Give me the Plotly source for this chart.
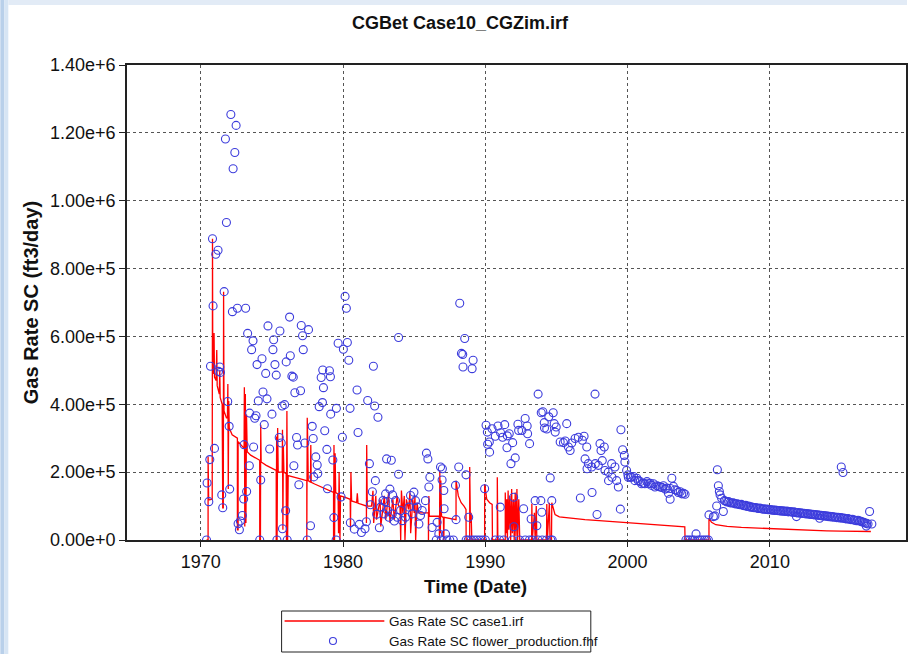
import plotly.graph_objects as go

# ---------------------------------------------------------------------------
# Simulated gas rate (case1.irf): (decimal year, rate in Mscf/day)
# ---------------------------------------------------------------------------
sim_points = [
    (1970.40, 0), (1970.51, 0), (1970.51, 246), (1970.55, 118), (1970.80, 120),
    (1970.82, 888), (1970.84, 500), (1970.90, 490), (1970.93, 610), (1970.96, 480),
    (1971.07, 470), (1971.12, 560), (1971.15, 455), (1971.30, 430), (1971.33, 500),
    (1971.36, 420), (1971.50, 400), (1971.54, 95), (1971.58, 95), (1971.60, 732),
    (1971.63, 380), (1971.80, 360), (1971.87, 360), (1971.90, 460), (1971.93, 150),
    (1971.96, 410), (1972.00, 330), (1972.20, 310), (1972.50, 300), (1972.57, 300),
    (1972.57, 30), (1972.62, 30), (1972.62, 290), (1973.00, 270), (1973.04, 270),
    (1973.06, 450), (1973.09, 40), (1973.13, 430), (1973.17, 50), (1973.21, 370),
    (1973.26, 260), (1973.50, 250), (1974.00, 240), (1974.14, 235), (1974.14, 0),
    (1974.19, 0), (1974.21, 340), (1974.24, 230), (1974.60, 220), (1975.00, 210),
    (1975.30, 205), (1975.30, 0), (1975.33, 305), (1975.36, 0), (1975.40, 330),
    (1975.44, 200), (1975.72, 200), (1975.74, 325), (1975.77, 30), (1975.80, 276),
    (1975.84, 200), (1976.00, 195), (1976.02, 0), (1976.05, 380), (1976.10, 0),
    (1976.14, 190), (1976.50, 185), (1977.00, 180), (1977.45, 175), (1977.45, 0),
    (1977.48, 360), (1977.52, 280), (1977.55, 175), (1977.71, 170), (1977.73, 280),
    (1977.76, 170), (1978.00, 165), (1978.50, 155), (1979.00, 145), (1979.33, 140),
    (1979.33, 0), (1979.36, 280), (1979.40, 0), (1979.44, 256), (1979.48, 140),
    (1979.65, 135), (1979.68, 20), (1979.72, 200), (1979.78, 0), (1979.82, 130),
    (1980.20, 125), (1980.50, 120), (1980.52, 30), (1980.55, 200), (1980.60, 115),
    (1980.95, 110), (1981.00, 138), (1981.05, 108), (1981.30, 105), (1981.64, 100),
    (1981.64, 50), (1981.66, 280), (1981.70, 100), (1982.00, 100), (1982.10, 145),
    (1982.15, 50), (1982.30, 130), (1982.35, 60), (1982.60, 120), (1982.65, 40),
    (1982.90, 130), (1983.00, 60), (1983.20, 140), (1983.30, 50), (1983.50, 120),
    (1983.60, 60), (1983.80, 130), (1983.90, 100), (1984.00, 100), (1984.05, 0),
    (1984.10, 146), (1984.20, 80), (1984.30, 130), (1984.35, 0), (1984.45, 120),
    (1984.60, 90), (1984.70, 140), (1984.75, 20), (1984.90, 120), (1985.00, 80),
    (1985.05, 130), (1985.10, 0), (1985.20, 110), (1985.30, 80), (1986.00, 80),
    (1986.00, 0), (1986.03, 130), (1986.06, 70), (1986.75, 70), (1986.78, 0),
    (1986.80, 205), (1986.84, 20), (1986.87, 175), (1986.92, 70), (1987.05, 66),
    (1987.08, 0), (1987.10, 67), (1987.94, 60), (1987.94, 175), (1988.10, 130),
    (1988.30, 110), (1988.50, 100), (1988.64, 90), (1988.65, 0), (1988.90, 0),
    (1988.90, 215), (1988.95, 50), (1989.00, 80), (1989.05, 0), (1989.95, 0),
    (1989.95, 165), (1990.10, 120), (1990.30, 110), (1990.48, 105), (1990.50, 0),
    (1990.84, 0), (1990.84, 185), (1990.88, 0), (1991.40, 0), (1991.40, 140),
    (1991.45, 20), (1991.50, 120), (1991.55, 0), (1991.60, 146), (1991.65, 30),
    (1991.72, 130), (1991.78, 0), (1991.85, 150), (1991.90, 20), (1991.98, 120),
    (1992.03, 0), (1992.10, 140), (1992.15, 10), (1992.22, 150), (1992.27, 0),
    (1992.35, 120), (1992.42, 0), (1993.25, 0), (1993.27, 107), (1993.30, 0),
    (1993.45, 80), (1993.50, 0), (1993.58, 100), (1993.62, 0), (1994.30, 0),
    (1994.32, 106), (1994.36, 0), (1994.50, 110), (1994.55, 0), (1994.65, 0),
    (1994.67, 110), (1994.90, 75), (1995.20, 68), (1996.00, 64), (1997.00, 60),
    (1998.00, 57), (1999.00, 54), (2000.00, 50), (2001.00, 48), (2002.00, 46),
    (2003.00, 43), (2003.90, 40), (2004.02, 39), (2004.04, 0), (2005.72, 0),
    (2005.72, 64), (2005.90, 52), (2006.20, 45), (2007.00, 40), (2008.00, 37),
    (2009.00, 35), (2010.00, 33), (2011.00, 31), (2012.00, 30), (2013.00, 29),
    (2014.00, 27), (2015.00, 26), (2016.00, 25), (2017.10, 25),
]

# ---------------------------------------------------------------------------
# Measured gas rate (flower_production.fhf): (decimal year, rate in Mscf/day)
# ---------------------------------------------------------------------------
obs_1970s = [
    (1970.40, 0), (1970.44, 168), (1970.56, 113), (1970.63, 237), (1970.68, 512),
    (1970.82, 888), (1970.86, 690), (1970.96, 270), (1971.05, 842), (1971.21, 854),
    (1971.24, 497), (1971.33, 510), (1971.38, 494), (1971.47, 133), (1971.54, 95),
    (1971.64, 732), (1971.73, 1182), (1971.80, 936), (1971.89, 408), (1971.99, 335),
    (1972.03, 150), (1972.11, 1254), (1972.22, 673), (1972.27, 1094), (1972.39, 1142),
    (1972.48, 1222), (1972.57, 683), (1972.62, 48), (1972.71, 30), (1972.78, 56),
    (1972.92, 72), (1973.01, 121), (1973.04, 281), (1973.15, 683), (1973.22, 143),
    (1973.29, 609), (1973.41, 219), (1973.43, 374), (1973.57, 561), (1973.67, 587),
    (1973.71, 274), (1973.79, 359), (1973.88, 366), (1973.95, 517), (1974.04, 410),
    (1974.14, 0), (1974.21, 177), (1974.30, 534), (1974.37, 436), (1974.46, 340),
    (1974.56, 491), (1974.65, 416), (1974.72, 631), (1974.84, 268), (1975.00, 371),
    (1975.07, 561), (1975.12, 590), (1975.21, 517), (1975.30, 486), (1975.35, 0),
    (1975.51, 302), (1975.56, 616), (1975.65, 286), (1975.72, 395), (1975.74, 33),
    (1975.89, 399), (1975.96, 86), (1976.00, 525), (1976.07, 0), (1976.24, 657),
    (1976.29, 543), (1976.40, 483), (1976.50, 480), (1976.54, 219), (1976.61, 434),
    (1976.73, 302), (1976.80, 280), (1976.89, 163), (1977.01, 440), (1977.06, 632),
    (1977.15, 602), (1977.20, 561), (1977.31, 286), (1977.48, 0), (1977.57, 620),
    (1977.71, 42), (1977.83, 335), (1977.90, 299), (1977.94, 186), (1978.08, 245),
    (1978.18, 221), (1978.22, 196), (1978.32, 393), (1978.46, 479), (1978.55, 405),
    (1978.57, 501), (1978.62, 449), (1978.71, 322), (1978.86, 267), (1978.90, 151),
    (1979.04, 499), (1979.11, 481), (1979.13, 371), (1979.28, 236), (1979.35, 66),
    (1979.51, 0), (1979.53, 388), (1979.65, 580), (1979.86, 127), (1979.95, 303),
]

obs_1980s = [
    (1980.02, 562), (1980.14, 718), (1980.23, 683), (1980.30, 582), (1980.40, 530),
    (1980.49, 388), (1980.51, 51), (1980.79, 32), (1980.98, 442), (1981.05, 317),
    (1981.14, 46), (1981.29, 22), (1981.54, 33), (1981.64, 54), (1981.73, 411),
    (1981.85, 225), (1981.92, 104), (1982.06, 142), (1982.13, 512), (1982.22, 395),
    (1982.27, 175), (1982.36, 76), (1982.45, 362), (1982.55, 36), (1982.64, 97),
    (1982.80, 116), (1982.87, 77), (1982.97, 113), (1982.99, 136), (1983.06, 239),
    (1983.11, 88), (1983.22, 67), (1983.29, 150), (1983.39, 235), (1983.46, 77),
    (1983.48, 133), (1983.60, 56), (1983.69, 116), (1983.81, 67), (1983.90, 194),
    (1983.90, 597), (1984.04, 87), (1984.16, 57), (1984.39, 67), (1984.63, 97),
    (1984.74, 131), (1984.86, 77), (1984.98, 141), (1985.09, 116), (1985.21, 97),
    (1985.33, 47), (1985.44, 72), (1985.56, 87), (1985.79, 116), (1985.86, 256),
    (1985.96, 239), (1986.03, 156), (1986.10, 185), (1986.26, 37), (1986.61, 52),
    (1986.73, 18), (1986.85, 215), (1986.96, 177), (1986.98, 210), (1987.08, 146),
    (1987.10, 92), (1987.20, 18), (1987.90, 161), (1987.94, 60), (1988.13, 215),
    (1988.20, 698), (1988.32, 550), (1988.41, 547), (1988.43, 510), (1988.55, 594),
    (1988.64, 192), (1988.83, 67), (1989.07, 505), (1989.14, 530), (1989.95, 151),
]

obs_1990s = [
    (1990.05, 338), (1990.14, 318), (1990.16, 282), (1990.28, 289), (1990.30, 259),
    (1990.47, 328), (1990.70, 306), (1990.89, 336), (1991.05, 97), (1991.07, 316),
    (1991.21, 303), (1991.36, 340), (1991.52, 272), (1991.54, 307), (1991.68, 313),
    (1991.80, 225), (1991.92, 287), (1991.99, 126), (1992.01, 39), (1992.10, 242),
    (1992.29, 341), (1992.34, 323), (1992.57, 323), (1992.69, 92), (1992.80, 358),
    (1992.94, 336), (1992.97, 313), (1993.11, 284), (1993.22, 62), (1993.50, 116),
    (1993.62, 42), (1993.71, 430), (1993.90, 116), (1993.93, 375), (1993.97, 82),
    (1994.04, 378), (1994.14, 346), (1994.16, 330), (1994.32, 327), (1994.46, 363),
    (1994.56, 183), (1994.67, 116), (1994.77, 375), (1994.84, 343), (1994.91, 318),
    (1994.98, 333), (1995.26, 289), (1995.49, 287), (1995.61, 292), (1995.72, 343),
    (1995.84, 274), (1995.96, 264), (1996.07, 286), (1996.31, 299), (1996.54, 303),
    (1996.68, 124), (1996.82, 294), (1996.94, 306), (1997.01, 239), (1997.13, 274),
    (1997.15, 210), (1997.24, 225), (1997.48, 215), (1997.50, 140), (1997.71, 430),
    (1997.73, 225), (1997.85, 75), (1997.94, 220), (1998.06, 284), (1998.13, 264),
    (1998.22, 234), (1998.36, 274), (1998.41, 205), (1998.64, 200), (1998.66, 175),
    (1998.88, 225), (1998.90, 185), (1999.11, 215), (1999.23, 175), (1999.35, 156),
    (1999.49, 91), (1999.53, 325), (1999.65, 266), (1999.77, 249), (1999.81, 230),
    (1999.93, 205),
]

obs_2000s = [
    (2000.02, 192), (2000.05, 185), (2000.19, 185), (2000.28, 185), (2000.42, 187),
    (2000.51, 175), (2000.65, 182), (2000.75, 175), (2000.89, 172), (2000.98, 166),
    (2001.12, 167), (2001.21, 166), (2001.36, 172), (2001.45, 166), (2001.59, 167),
    (2001.68, 161), (2001.82, 166), (2001.92, 156), (2002.06, 160), (2002.17, 158),
    (2002.29, 156), (2002.41, 155), (2002.52, 160), (2002.64, 150), (2002.76, 153),
    (2002.87, 138), (2002.99, 120), (2003.00, 152), (2003.11, 182), (2003.22, 158),
    (2003.34, 148), (2003.45, 146), (2003.57, 140), (2003.70, 142), (2003.81, 136),
    (2003.93, 138), (2004.04, 135), (2004.81, 18),
    (2005.72, 74), (2006.03, 69), (2006.14, 71), (2006.26, 100), (2006.31, 207),
    (2006.38, 160), (2006.45, 143), (2006.50, 133), (2006.61, 123), (2006.73, 84),
    (2006.80, 116),
]

# Monthly-style tail of the production history, 2006.9 - 2016.9
obs_tail_year = [
    2006.9, 2007.0, 2007.1, 2007.2, 2007.3, 2007.4, 2007.5, 2007.6, 2007.7, 2007.8,
    2007.9, 2008.0, 2008.1, 2008.2, 2008.3, 2008.4, 2008.5, 2008.6, 2008.7, 2008.8,
    2008.9, 2009.0, 2009.1, 2009.2, 2009.3, 2009.4, 2009.5, 2009.6, 2009.7, 2009.8,
    2009.9, 2010.0, 2010.1, 2010.2, 2010.3, 2010.4, 2010.5, 2010.6, 2010.7, 2010.8,
    2010.9, 2011.0, 2011.1, 2011.2, 2011.3, 2011.4, 2011.5, 2011.6, 2011.7, 2011.8,
    2011.9, 2012.0, 2012.1, 2012.2, 2012.3, 2012.4, 2012.5, 2012.6, 2012.7, 2012.8,
    2012.9, 2013.0, 2013.1, 2013.2, 2013.3, 2013.4, 2013.5, 2013.6, 2013.7, 2013.8,
    2013.9, 2014.0, 2014.1, 2014.2, 2014.3, 2014.4, 2014.5, 2014.6, 2014.7, 2014.8,
    2014.9, 2015.0, 2015.1, 2015.2, 2015.3, 2015.4, 2015.5, 2015.6, 2015.7, 2015.8,
    2015.9, 2016.0, 2016.1, 2016.2, 2016.3, 2016.4, 2016.5, 2016.6, 2016.7, 2016.8,
    2016.9,
]
obs_tail_rate = [
    114, 112, 113, 110, 109, 110, 108, 106, 107, 105,
    104, 105, 102, 101, 102, 99, 100, 97, 98, 96,
    95, 96, 94, 93, 94, 92, 91, 92, 90, 91,
    89, 90, 88, 89, 87, 88, 87, 86, 87, 85,
    86, 85, 84, 85, 83, 84, 83, 82, 83, 81,
    80, 81, 79, 80, 78, 79, 77, 78, 76, 77,
    75, 76, 74, 75, 73, 74, 72, 73, 71, 72,
    70, 71, 69, 70, 68, 69, 67, 68, 66, 67,
    65, 66, 64, 65, 63, 62, 63, 61, 60, 61,
    59, 58, 57, 58, 56, 55, 53, 52, 50, 49,
    47,
]
obs_outliers = [
    (2011.87, 69), (2013.50, 64), (2015.02, 215), (2015.14, 199),
    (2016.78, 41), (2017.01, 84), (2017.17, 47),
]

# Shut-in periods recorded as zero rate
obs_zero_years = [
    1986.55, 1986.90, 1987.30, 1987.50, 1987.75, 1988.65, 1988.80, 1989.00, 1989.20,
    1989.40, 1989.60, 1989.80, 1990.00, 1990.70, 1991.00, 1991.30, 1991.90, 1992.40,
    1992.80, 1993.10, 1993.30, 1993.70, 1994.00, 1994.30, 1994.60, 1994.70,
    2004.10, 2004.25, 2004.40, 2004.55, 2004.70, 2004.95, 2005.10, 2005.25,
    2005.40, 2005.55, 2005.68,
]

x_tick_years = [1970, 1980, 1990, 2000, 2010]
x_tick_labels = ["1970", "1980", "1990", "2000", "2010"]
y_tick_values = [0, 200000, 400000, 600000, 800000, 1000000, 1200000, 1400000]

# ---------------------------------------------------------------------------
sim_x = [p[0] for p in sim_points]
sim_y = [p[1] * 1000 for p in sim_points]

obs_pairs = obs_1970s + obs_1980s + obs_1990s + obs_2000s + obs_outliers
obs_x = [p[0] for p in obs_pairs] + obs_tail_year + obs_zero_years
obs_y = ([p[1] * 1000 for p in obs_pairs] + [r * 1000 for r in obs_tail_rate]
         + [0 for _ in obs_zero_years])

FONT = "Liberation Sans, Arial, sans-serif"
W, H = 909, 654
ML, MR, MT, MB = 127, 1, 65, 114
PW, PH = W - ML - MR, H - MT - MB


def px(xp):
    return (xp - ML) / PW


def py(yp):
    return (H - MB - yp) / PH


fig = go.Figure()
fig.add_trace(go.Scatter(
    x=sim_x, y=sim_y, mode="lines", name="Gas Rate SC case1.irf",
    line=dict(color="#ff0000", width=1.3), showlegend=False, hoverinfo="skip",
))
fig.add_trace(go.Scatter(
    x=obs_x, y=obs_y, mode="markers", name="Gas Rate SC flower_production.fhf",
    marker=dict(symbol="circle-open", size=8, color="#3c3cdc", line=dict(width=1.1)),
    showlegend=False, hoverinfo="skip",
))

# Page background strips
shapes = [
    dict(type="rect", xref="paper", yref="paper", layer="below",
         x0=px(0), x1=px(4), y0=py(H), y1=py(0), fillcolor="#b9d0ea", line=dict(width=0)),
    dict(type="rect", xref="paper", yref="paper", layer="below",
         x0=px(4), x1=px(8), y0=py(H), y1=py(0), fillcolor="#d7e5f4", line=dict(width=0)),
    dict(type="rect", xref="paper", yref="paper", layer="below",
         x0=px(8), x1=px(W), y0=py(5), y1=py(0), fillcolor="#e2ebf6", line=dict(width=0)),
]

# Legend box drawn below the axis
lx0, lx1, ly0, ly1 = 282, 592, 611, 652
shapes += [
    dict(type="rect", xref="paper", yref="paper",
         x0=px(lx0), x1=px(lx1), y0=py(ly1), y1=py(ly0),
         fillcolor="white", line=dict(color="#222", width=1)),
    dict(type="line", xref="paper", yref="paper",
         x0=px(285), x1=px(385), y0=py(621), y1=py(621),
         line=dict(color="#ff0000", width=1.5)),
    dict(type="circle", xref="paper", yref="paper",
         x0=px(330), x1=px(337), y0=py(644.5), y1=py(637.5),
         line=dict(color="#3c3cdc", width=1.1)),
]

annotations = [
    dict(text="<b>Time (Date)</b>", xref="paper", yref="paper", x=px(476), y=py(586),
         showarrow=False, font=dict(family=FONT, size=19, color="#111"),
         xanchor="center", yanchor="middle"),
    dict(text="Gas Rate SC case1.irf", xref="paper", yref="paper", x=px(388), y=py(621),
         showarrow=False, font=dict(family=FONT, size=13.5, color="#111"),
         xanchor="left", yanchor="middle"),
    dict(text="Gas Rate SC flower_production.fhf", xref="paper", yref="paper",
         x=px(388), y=py(641), showarrow=False,
         font=dict(family=FONT, size=13.5, color="#111"), xanchor="left", yanchor="middle"),
]

fig.update_layout(
    width=W, height=H,
    margin=dict(l=ML, r=MR, t=MT, b=MB, pad=0),
    paper_bgcolor="#ffffff", plot_bgcolor="#ffffff",
    title=dict(text="<b>CGBet Case10_CGZim.irf</b>", x=460 / W, xref="container",
               y=1 - 23 / H, yref="container", xanchor="center", yanchor="middle",
               font=dict(family=FONT, size=18, color="#111")),
    shapes=shapes, annotations=annotations,
    showlegend=False,
)

fig.update_xaxes(
    range=[1964.81, 2019.57], tickvals=x_tick_years, ticktext=x_tick_labels,
    showgrid=True, gridcolor="#555", griddash="dot", gridwidth=1,
    showline=True, linecolor="#222", linewidth=1.5, mirror=True,
    ticks="outside", ticklen=5, tickcolor="#222", tickwidth=1.2,
    tickfont=dict(family=FONT, size=18, color="#111"), zeroline=False,
)
fig.update_yaxes(
    range=[0, 1400000], tickvals=y_tick_values, tickformat=".2e",
    showgrid=True, gridcolor="#555", griddash="dot", gridwidth=1,
    showline=True, linecolor="#222", linewidth=1.5, mirror=True,
    ticks="outside", ticklen=6, tickcolor="#222", tickwidth=1.2,
    tickfont=dict(family=FONT, size=18, color="#111"), zeroline=False,
    title=dict(text="<b>Gas Rate SC (ft3/day)</b>", standoff=6,
               font=dict(family=FONT, size=20, color="#111")),
)

fig.write_html("out.html", config={"displayModeBar": False})
